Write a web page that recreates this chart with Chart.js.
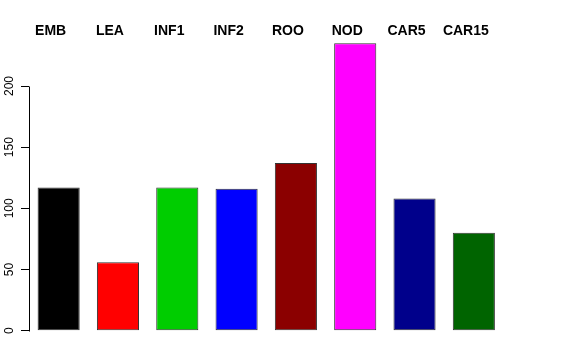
<!DOCTYPE html>
<html>
<head>
<meta charset="utf-8">
<script src="https://cdn.jsdelivr.net/npm/chart.js@4/dist/chart.umd.min.js"></script>
<style>
  html, body { margin: 0; padding: 0; background: #fff; }
</style>
</head>
<body>
<canvas id="chart" width="576" height="360"></canvas>
<script>
// valeurs
const categories = ['EMB', 'LEA', 'INF1', 'INF2', 'ROO', 'NOD', 'CAR5', 'CAR15'];
const counts = [117, 56, 117, 116, 137, 235, 108, 80];
const barColors = ['#000000', '#FF0000', '#00CD00', '#0000FF', '#8B0000', '#FF00FF', '#00008B', '#006400'];
const yTicks = [0, 50, 100, 150, 200];

const fontFamily = '"Liberation Sans", Arial, Helvetica, sans-serif';

// axe vertical limité de 0 à 200 comme dans R
const axisLine = {
    id: 'axisLine',
    afterDraw(chart) {
        const y = chart.scales.y;
        const ctx = chart.ctx;
        const x = Math.floor(chart.chartArea.left) + 0.5;
        ctx.save();
        ctx.strokeStyle = '#000';
        ctx.lineWidth = 1;
        ctx.beginPath();
        ctx.moveTo(x, Math.round(y.getPixelForValue(yTicks[0])) + 0.5);
        ctx.lineTo(x, Math.round(y.getPixelForValue(yTicks[yTicks.length - 1])) + 0.5);
        ctx.stroke();
        ctx.restore();
    }
};

new Chart(document.getElementById('chart').getContext('2d'), {
    type: 'bar',
    data: {
        labels: categories,
        datasets: [{
            data: counts,
            backgroundColor: barColors,
            borderColor: '#333333',
            borderWidth: 1,
            borderSkipped: false,
            categoryPercentage: 1,
            barPercentage: 0.71
        }]
    },
    options: {
        responsive: false,
        animation: false,
        devicePixelRatio: 1,
        layout: { padding: { left: 0, right: 72.5, top: 0, bottom: 17.8 } },
        plugins: {
            legend: { display: false },
            tooltip: { enabled: false }
        },
        scales: {
            x: {
                position: 'top',
                grid: { display: false, drawTicks: false },
                border: { display: false },
                ticks: {
                    color: '#000',
                    font: { family: fontFamily, size: 14, weight: 'bold' },
                    labelOffset: -8,
                    padding: 0.6,
                    maxRotation: 0,
                    autoSkip: false
                },
                afterFit(scale) { scale.height = 40; }
            },
            y: {
                min: -9.4,
                max: 237.6,
                grid: { drawOnChartArea: false, drawTicks: true, tickLength: 8, color: '#000' },
                border: { display: false },
                afterBuildTicks(scale) { scale.ticks = yTicks.map(v => ({ value: v })); },
                ticks: {
                    color: '#000',
                    font: { family: fontFamily, size: 12 },
                    minRotation: 90,
                    maxRotation: 90,
                    crossAlign: 'center',
                    padding: 1.5
                },
                afterFit(scale) { scale.width = 29; }
            }
        }
    },
    plugins: [axisLine]
});
</script>
</body>
</html>
